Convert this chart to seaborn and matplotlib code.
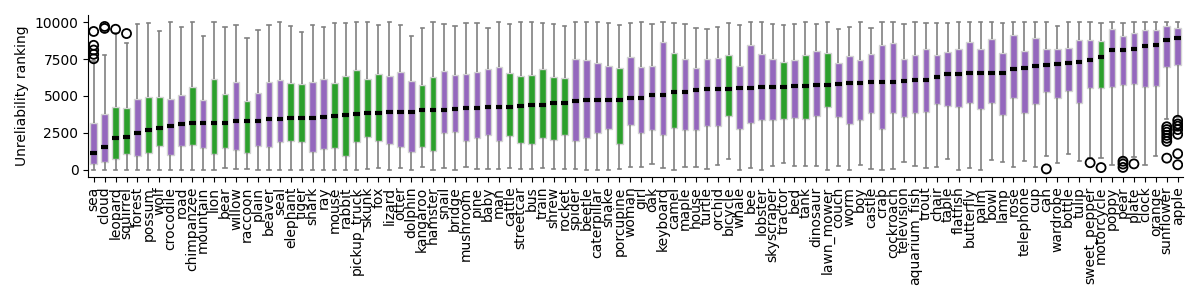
import matplotlib
matplotlib.use("Agg")
import matplotlib.pyplot as plt
import seaborn as sns
import pandas as pd

classes = ['sea', 'cloud', 'leopard', 'squirrel', 'forest', 'possum', 'wolf', 'crocodile', 'road', 'chimpanzee',
           'mountain', 'lion', 'bear', 'willow', 'raccoon', 'plain', 'beaver', 'seal', 'elephant', 'tiger',
           'shark', 'ray', 'mouse', 'rabbit', 'pickup_truck', 'skunk', 'fox', 'lizard', 'otter', 'dolphin',
           'kangaroo', 'hamster', 'snail', 'bridge', 'mushroom', 'pine', 'baby', 'man', 'cattle', 'streetcar',
           'bus', 'train', 'shrew', 'rocket', 'spider', 'beetle', 'caterpillar', 'snake', 'porcupine', 'woman',
           'girl', 'oak', 'keyboard', 'camel', 'maple', 'house', 'turtle', 'orchid', 'bicycle', 'whale',
           'bee', 'lobster', 'skyscraper', 'tractor', 'bed', 'tank', 'dinosaur', 'lawn_mower', 'couch', 'worm',
           'boy', 'castle', 'crab', 'cockroach', 'television', 'aquarium_fish', 'trout', 'chair', 'table', 'flatfish',
           'butterfly', 'palm', 'bowl', 'lamp', 'rose', 'telephone', 'cup', 'can', 'wardrobe', 'bottle',
           'tulip', 'sweet_pepper', 'motorcycle', 'poppy', 'pear', 'plate', 'clock', 'orange', 'sunflower', 'apple']

green_classes = ['leopard', 'squirrel', 'possum', 'wolf', 'chimpanzee', 'lion', 'bear', 'raccoon', 'elephant',
                 'tiger', 'mouse', 'rabbit', 'pickup_truck', 'skunk', 'fox', 'kangaroo', 'hamster', 'cattle',
                 'streetcar', 'bus', 'train', 'shrew', 'rocket', 'porcupine', 'camel', 'bicycle', 'tractor',
                 'tank', 'lawn_mower', 'motorcycle']

# five-number summaries
whisker_low = [0, 0, 0, 0, 0, 0, 0, 0, 0, 0,
               0, 0, 110, 20, 20, 0, 0, 0, 0, 0,
               0, 0, 0, 0, 0, 20, 110, 0, 110, 0,
               160, 0, 110, 0, 180, 20, 20, 20, 110, 20,
               50, 110, 20, 20, 20, 0, 0, 0, 50, 200,
               200, 370, 110, 0, 180, 180, 50, 320, 690, 0,
               110, 0, 250, 460, 250, 250, 250, 0, 250, 0,
               320, 20, 0, 50, 530, 250, 110, 180, 730, 0,
               110, 0, 640, 500, 180, 570, 180, 940, 460, 1050,
               570, 820, 820, 300, 820, 890, 300, 920, 3430, 3590]
q1 = [370, 500, 730, 1050, 920, 1120, 1620, 980, 1600, 1670,
      1490, 1080, 1490, 1300, 1120, 1600, 1530, 1880, 1950, 1880,
      1190, 1400, 1490, 920, 1880, 2220, 1970, 1740, 1530, 1190,
      1560, 1280, 2490, 2560, 1970, 2150, 2380, 1950, 2290, 1830,
      1740, 2150, 1990, 2360, 1950, 2150, 2490, 2770, 1740, 3040,
      2490, 2700, 2360, 2860, 2700, 2700, 2970, 2970, 3660, 2770,
      3180, 3340, 3340, 3410, 3480, 3410, 3660, 4230, 3590, 3070,
      3340, 3820, 2790, 3820, 3590, 3870, 3940, 4490, 4350, 4280,
      4550, 4140, 4550, 3730, 4830, 3870, 4490, 5260, 4830, 5330,
      4550, 5540, 5540, 5580, 5720, 5790, 5580, 5650, 6980, 7120]
median = [1120, 1530, 2150, 2220, 2490, 2700, 2840, 2970, 3110, 3180,
          3180, 3180, 3180, 3320, 3320, 3320, 3460, 3460, 3520, 3520,
          3520, 3590, 3660, 3730, 3780, 3870, 3870, 3940, 3940, 3940,
          4070, 4070, 4070, 4140, 4210, 4210, 4280, 4280, 4280, 4350,
          4420, 4420, 4550, 4550, 4690, 4760, 4760, 4760, 4760, 4830,
          4830, 5100, 5100, 5240, 5240, 5380, 5450, 5450, 5450, 5510,
          5510, 5580, 5580, 5580, 5650, 5650, 5720, 5720, 5790, 5860,
          5860, 5930, 5930, 5930, 6040, 6110, 6110, 6270, 6480, 6480,
          6540, 6540, 6540, 6540, 6820, 6890, 7020, 7090, 7160, 7230,
          7300, 7440, 7640, 8120, 8120, 8190, 8400, 8470, 8830, 8950]
q3 = [3200, 3780, 4230, 4160, 4780, 4920, 4920, 4780, 5060, 5610,
      4740, 6150, 5120, 5970, 4670, 5190, 5970, 6110, 5900, 5810,
      5970, 6180, 5900, 6340, 6770, 6180, 6520, 6380, 6610, 6040,
      5740, 6320, 6730, 6450, 6520, 6660, 6860, 6980, 6590, 6380,
      6450, 6840, 6320, 6220, 7530, 7410, 7210, 7070, 6910, 7670,
      6980, 7070, 8690, 7940, 7530, 6910, 7530, 7600, 7800, 7050,
      8440, 7870, 7530, 7320, 7460, 7800, 8080, 7940, 7250, 7730,
      7460, 7870, 8440, 8630, 7530, 7800, 8210, 7800, 8010, 8210,
      8690, 8210, 8900, 7940, 9130, 8080, 8970, 8210, 8210, 8280,
      8830, 8830, 8760, 9520, 9040, 9310, 9450, 9450, 9720, 9590]
whisker_high = [7370, 7760, 9300, 8630, 9880, 9930, 9400, 9990, 9680, 9990,
                9080, 9990, 9680, 9840, 8970, 9450, 9840, 9990, 9720, 9340,
                9840, 9680, 9930, 9930, 9990, 9990, 9840, 9990, 9840, 9080,
                9590, 9990, 9880, 9750, 9930, 9930, 9590, 9990, 9880, 9990,
                9990, 9930, 9880, 9750, 9990, 9999, 9990, 9930, 9820, 9930,
                9990, 9880, 9999, 9930, 9880, 9590, 9520, 9680, 9930, 9820,
                9990, 9990, 9880, 9820, 9880, 9999, 9880, 9990, 9520, 9680,
                9990, 9590, 9990, 9999, 9880, 9990, 9930, 9930, 9930, 9990,
                9990, 9990, 9999, 9930, 9999, 9990, 9990, 9990, 9750, 9990,
                9990, 9990, 9930, 9990, 9930, 9999, 9999, 9990, 9990, 9999]

outlier_classes = ['sea'] * 5 + ['cloud'] * 2 + ['leopard', 'squirrel', 'can', 'sweet_pepper', 'motorcycle'] \
    + ['pear'] * 3 + ['plate'] + ['sunflower'] * 7 + ['apple'] * 7
outlier_values = [7530, 7830, 8120, 8440, 9380,
                  9590, 9720,
                  9530, 9240, 50, 470, 140,
                  570, 380, 150,
                  390,
                  2910, 2720, 2540, 2330, 2130, 1920, 780,
                  3350, 3100, 2950, 2720, 2400, 1080, 330]

rows = []
for i, c in enumerate(classes):
    grp = 'green' if c in green_classes else 'purple'
    for v in (whisker_low[i], q1[i], median[i], q3[i], whisker_high[i]):
        rows.append({'cls': c, 'rank': v, 'grp': grp})
box_df = pd.DataFrame(rows)
out_df = pd.DataFrame({'cls': outlier_classes, 'rank': outlier_values})

fig, ax = plt.subplots(figsize=(12, 3), dpi=100)
fig.subplots_adjust(left=0.0735, right=0.986, top=0.95, bottom=0.41)

sns.boxplot(data=box_df, x='cls', y='rank', hue='grp', order=classes,
            palette={'purple': '#9467bd', 'green': '#2ca02c'}, saturation=1,
            width=0.6, whis=(0, 100), showfliers=False, legend=False, ax=ax,
            boxprops={'edgecolor': '#d3d3d3', 'linewidth': 1},
            whiskerprops={'color': '#808080', 'linewidth': 1.2},
            capprops={'color': '#808080', 'linewidth': 1.2},
            medianprops={'color': 'black', 'linewidth': 3})
sns.stripplot(data=out_df, x='cls', y='rank', order=classes, jitter=False,
              marker='o', size=6.5, facecolor='none', edgecolor='black',
              linewidth=1.3, ax=ax)

ax.set_yticks([0, 2500, 5000, 7500, 10000])
ax.set_xlabel('')
ax.set_ylabel('Unreliability ranking')
ax.tick_params(axis='x', rotation=90)
sns.despine(ax=ax)

plt.savefig('out.png')
